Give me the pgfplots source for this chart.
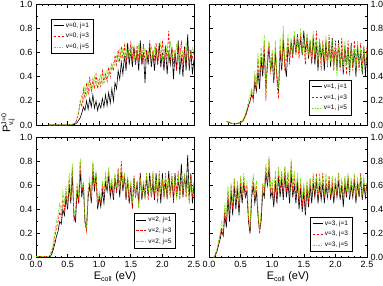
\documentclass[border=0pt]{standalone}
\usepackage{fontspec}
\setmainfont{Liberation Sans}
\usepackage{pgfplots}
\usepackage{pgfplotstable}
\pgfplotsset{compat=1.18}
\definecolor{lgreen}{rgb}{0.45,0.9,0}

\pgfplotstableread{
x a b c
0.200 0 0 0
0.300 0 0 0
0.400 0 0 0
0.500 0 0 0
0.550 0 0.005 0.005
0.600 0.005 0.01 0.01
0.625 0.01 0.02 0.02
0.650 0.02 0.05 0.06
0.675 0.04 0.10 0.12
0.700 0.06 0.20 0.18
0.725 0.10 0.15 0.25
0.750 0.15 0.30 0.20
0.775 0.12 0.22 0.32
0.800 0.20 0.35 0.25
0.825 0.13 0.25 0.36
0.850 0.22 0.40 0.28
0.875 0.15 0.28 0.34
0.900 0.25 0.38 0.30
0.925 0.14 0.30 0.40
0.950 0.20 0.42 0.32
0.975 0.12 0.30 0.38
1.000 0.18 0.38 0.33
1.025 0.14 0.32 0.42
1.050 0.22 0.45 0.35
1.075 0.15 0.35 0.44
1.100 0.25 0.42 0.38
1.125 0.16 0.36 0.46
1.150 0.27 0.48 0.40
1.175 0.18 0.40 0.48
1.200 0.30 0.50 0.45
1.225 0.20 0.45 0.52
1.250 0.35 0.58 0.50
1.275 0.30 0.50 0.58
1.300 0.45 0.62 0.52
1.325 0.38 0.52 0.62
1.350 0.52 0.65 0.55
1.375 0.42 0.55 0.64
1.400 0.58 0.66 0.56
1.425 0.45 0.52 0.66
1.450 0.68 0.62 0.55
1.475 0.50 0.56 0.63
1.500 0.62 0.68 0.58
1.525 0.48 0.55 0.65
1.550 0.65 0.64 0.54
1.575 0.50 0.50 0.62
1.600 0.62 0.66 0.56
1.625 0.45 0.55 0.66
1.650 0.70 0.62 0.55
1.675 0.50 0.50 0.63
1.700 0.60 0.67 0.55
1.725 0.35 0.52 0.64
1.750 0.62 0.60 0.56
1.775 0.50 0.55 0.62
1.800 0.66 0.70 0.58
1.825 0.48 0.50 0.66
1.850 0.60 0.62 0.55
1.875 0.45 0.54 0.64
1.900 0.63 0.68 0.56
1.925 0.50 0.50 0.62
1.950 0.68 0.64 0.58
1.975 0.48 0.56 0.68
2.000 0.60 0.70 0.55
2.025 0.45 0.48 0.64
2.050 0.65 0.66 0.58
2.075 0.42 0.55 0.66
2.100 0.60 0.78 0.56
2.125 0.50 0.52 0.70
2.150 0.64 0.65 0.55
2.175 0.38 0.50 0.62
2.200 0.60 0.62 0.58
2.225 0.45 0.45 0.66
2.250 0.70 0.64 0.52
2.275 0.42 0.55 0.64
2.300 0.58 0.70 0.56
2.325 0.40 0.50 0.62
2.350 0.65 0.62 0.55
2.375 0.45 0.52 0.68
2.400 0.75 0.66 0.56
2.425 0.45 0.50 0.62
2.450 0.62 0.60 0.58
2.475 0.42 0.55 0.64
2.500 0.55 0.62 0.60
}\tA

\pgfplotstableread{
x a b c
0.280 0.03 0.03 0.03
0.300 0.025 0.025 0.025
0.350 0.015 0.015 0.015
0.400 0.01 0.01 0.01
0.450 0.012 0.012 0.015
0.500 0.02 0.02 0.025
0.525 0.03 0.03 0.035
0.550 0.05 0.04 0.05
0.575 0.08 0.07 0.09
0.600 0.12 0.10 0.14
0.625 0.16 0.15 0.20
0.650 0.20 0.20 0.25
0.675 0.25 0.28 0.30
0.700 0.22 0.20 0.25
0.725 0.35 0.40 0.45
0.750 0.28 0.30 0.32
0.775 0.45 0.55 0.60
0.800 0.30 0.35 0.38
0.825 0.55 0.60 0.65
0.850 0.40 0.45 0.50
0.875 0.62 0.70 0.75
0.900 0.30 0.20 0.25
0.925 0.50 0.55 0.60
0.950 0.65 0.68 0.70
0.975 0.45 0.42 0.45
1.000 0.55 0.60 0.62
1.025 0.35 0.38 0.40
1.050 0.60 0.65 0.70
1.075 0.40 0.35 0.42
1.100 0.28 0.22 0.30
1.125 0.62 0.66 0.72
1.150 0.45 0.48 0.50
1.175 0.70 0.75 0.82
1.200 0.50 0.45 0.50
1.225 0.40 0.55 0.60
1.250 0.65 0.72 0.75
1.275 0.55 0.50 0.55
1.300 0.70 0.68 0.72
1.325 0.58 0.55 0.60
1.350 0.72 0.74 0.78
1.375 0.60 0.58 0.62
1.400 0.75 0.70 0.74
1.425 0.60 0.55 0.58
1.450 0.72 0.76 0.80
1.475 0.58 0.60 0.60
1.500 0.78 0.68 0.72
1.525 0.60 0.50 0.55
1.550 0.72 0.75 0.76
1.575 0.55 0.58 0.60
1.600 0.70 0.66 0.70
1.625 0.52 0.50 0.55
1.650 0.74 0.72 0.78
1.675 0.50 0.55 0.58
1.700 0.68 0.78 0.70
1.725 0.45 0.50 0.52
1.750 0.70 0.65 0.72
1.775 0.55 0.45 0.50
1.800 0.66 0.70 0.68
1.825 0.45 0.52 0.55
1.850 0.70 0.66 0.74
1.875 0.52 0.48 0.50
1.900 0.68 0.75 0.68
1.925 0.48 0.55 0.52
1.950 0.72 0.62 0.70
1.975 0.50 0.45 0.48
2.000 0.65 0.70 0.66
2.025 0.45 0.52 0.40
2.050 0.70 0.66 0.68
2.075 0.48 0.45 0.50
2.100 0.62 0.72 0.64
2.125 0.42 0.50 0.45
2.150 0.66 0.62 0.70
2.175 0.50 0.42 0.50
2.200 0.64 0.70 0.62
2.225 0.42 0.50 0.40
2.250 0.68 0.64 0.66
2.275 0.48 0.45 0.52
2.300 0.62 0.70 0.62
2.325 0.40 0.52 0.45
2.350 0.66 0.60 0.70
2.375 0.50 0.45 0.50
2.400 0.60 0.68 0.64
2.425 0.42 0.50 0.45
2.450 0.65 0.62 0.66
2.475 0.40 0.48 0.50
2.500 0.62 0.66 0.60
}\tB

\pgfplotstableread{
x a b c
0.000 0.01 0.01 0.01
0.100 0.01 0.01 0.01
0.200 0.01 0.01 0.01
0.225 0.01 0.02 0.03
0.250 0.03 0.05 0.07
0.275 0.07 0.10 0.14
0.300 0.12 0.18 0.22
0.325 0.18 0.25 0.30
0.350 0.22 0.30 0.35
0.375 0.30 0.38 0.45
0.400 0.28 0.33 0.38
0.425 0.40 0.48 0.55
0.450 0.35 0.40 0.45
0.475 0.50 0.55 0.60
0.500 0.40 0.42 0.45
0.525 0.60 0.65 0.70
0.550 0.45 0.48 0.50
0.575 0.70 0.75 0.78
0.600 0.35 0.30 0.35
0.625 0.30 0.35 0.40
0.650 0.55 0.60 0.62
0.675 0.45 0.45 0.50
0.700 0.72 0.80 0.82
0.725 0.50 0.55 0.58
0.750 0.62 0.60 0.62
0.775 0.30 0.28 0.32
0.800 0.25 0.22 0.25
0.825 0.50 0.55 0.58
0.850 0.60 0.62 0.66
0.875 0.45 0.48 0.50
0.900 0.72 0.78 0.80
0.925 0.55 0.60 0.62
0.950 0.70 0.68 0.72
0.975 0.40 0.42 0.45
1.000 0.50 0.52 0.55
1.025 0.42 0.45 0.48
1.050 0.55 0.60 0.64
1.075 0.45 0.50 0.55
1.100 0.62 0.66 0.70
1.125 0.55 0.58 0.60
1.150 0.68 0.72 0.75
1.175 0.50 0.55 0.58
1.200 0.60 0.62 0.66
1.225 0.48 0.50 0.55
1.250 0.66 0.68 0.70
1.275 0.55 0.55 0.58
1.300 0.70 0.74 0.72
1.325 0.50 0.55 0.56
1.350 0.72 0.80 0.76
1.375 0.55 0.58 0.60
1.400 0.68 0.70 0.70
1.425 0.48 0.50 0.52
1.450 0.65 0.66 0.68
1.475 0.45 0.45 0.50
1.500 0.60 0.62 0.64
1.525 0.42 0.40 0.45
1.550 0.66 0.68 0.66
1.575 0.50 0.50 0.52
1.600 0.62 0.64 0.60
1.625 0.45 0.42 0.40
1.650 0.70 0.70 0.66
1.675 0.48 0.50 0.52
1.700 0.60 0.62 0.64
1.725 0.50 0.55 0.50
1.750 0.66 0.70 0.70
1.775 0.52 0.48 0.55
1.800 0.70 0.66 0.64
1.825 0.50 0.52 0.50
1.850 0.62 0.70 0.72
1.875 0.48 0.50 0.55
1.900 0.70 0.64 0.66
1.925 0.52 0.45 0.50
1.950 0.65 0.72 0.70
1.975 0.45 0.50 0.55
2.000 0.70 0.62 0.64
2.025 0.50 0.55 0.48
2.050 0.62 0.70 0.70
2.075 0.50 0.48 0.52
2.100 0.72 0.66 0.64
2.125 0.52 0.50 0.50
2.150 0.66 0.70 0.68
2.175 0.48 0.45 0.55
2.200 0.70 0.64 0.66
2.225 0.50 0.55 0.48
2.250 0.64 0.72 0.70
2.275 0.55 0.48 0.50
2.300 0.78 0.66 0.64
2.325 0.50 0.52 0.55
2.350 0.68 0.70 0.70
2.375 0.55 0.50 0.50
2.400 0.85 0.65 0.68
2.425 0.50 0.45 0.45
2.450 0.70 0.68 0.66
2.475 0.45 0.50 0.55
2.500 0.62 0.60 0.62
}\tC

\pgfplotstableread{
x a b c
0.075 0.00 0.00 0.00
0.100 0.02 0.03 0.03
0.125 0.05 0.06 0.07
0.150 0.10 0.12 0.14
0.175 0.15 0.18 0.20
0.200 0.22 0.25 0.30
0.225 0.18 0.20 0.25
0.250 0.35 0.40 0.45
0.275 0.25 0.30 0.35
0.300 0.50 0.55 0.60
0.325 0.30 0.35 0.40
0.350 0.55 0.60 0.62
0.375 0.35 0.40 0.45
0.400 0.60 0.65 0.66
0.425 0.40 0.45 0.48
0.450 0.58 0.62 0.64
0.475 0.35 0.40 0.45
0.500 0.60 0.66 0.68
0.525 0.45 0.50 0.52
0.550 0.62 0.65 0.70
0.575 0.50 0.52 0.55
0.600 0.55 0.60 0.62
0.625 0.30 0.32 0.35
0.650 0.20 0.22 0.25
0.675 0.50 0.55 0.58
0.700 0.60 0.65 0.68
0.725 0.45 0.50 0.52
0.750 0.55 0.60 0.64
0.775 0.35 0.38 0.40
0.800 0.22 0.20 0.22
0.825 0.30 0.35 0.38
0.850 0.55 0.60 0.62
0.875 0.50 0.55 0.58
0.900 0.70 0.75 0.78
0.925 0.60 0.62 0.65
0.950 0.75 0.82 0.84
0.975 0.50 0.55 0.58
1.000 0.55 0.60 0.64
1.025 0.42 0.45 0.50
1.050 0.62 0.68 0.72
1.075 0.45 0.50 0.55
1.100 0.68 0.72 0.75
1.125 0.50 0.55 0.60
1.150 0.65 0.70 0.72
1.175 0.48 0.52 0.58
1.200 0.70 0.75 0.76
1.225 0.50 0.55 0.60
1.250 0.62 0.70 0.72
1.275 0.45 0.50 0.55
1.300 0.70 0.80 0.82
1.325 0.50 0.55 0.60
1.350 0.60 0.68 0.72
1.375 0.45 0.50 0.55
1.400 0.62 0.66 0.70
1.425 0.40 0.45 0.50
1.450 0.58 0.62 0.66
1.475 0.38 0.42 0.48
1.500 0.55 0.60 0.62
1.525 0.35 0.38 0.45
1.550 0.58 0.62 0.64
1.575 0.42 0.45 0.50
1.600 0.60 0.65 0.66
1.625 0.45 0.50 0.52
1.650 0.62 0.68 0.70
1.675 0.50 0.52 0.55
1.700 0.64 0.70 0.68
1.725 0.45 0.50 0.52
1.750 0.60 0.66 0.70
1.775 0.48 0.52 0.55
1.800 0.62 0.70 0.66
1.825 0.45 0.50 0.52
1.850 0.60 0.65 0.70
1.875 0.50 0.52 0.55
1.900 0.64 0.68 0.66
1.925 0.48 0.50 0.52
1.950 0.60 0.64 0.68
1.975 0.45 0.48 0.50
2.000 0.62 0.66 0.65
2.025 0.50 0.52 0.55
2.050 0.64 0.70 0.70
2.075 0.48 0.50 0.52
2.100 0.60 0.64 0.66
2.125 0.42 0.48 0.50
2.150 0.62 0.66 0.68
2.175 0.50 0.52 0.55
2.200 0.66 0.68 0.70
2.225 0.48 0.50 0.52
2.250 0.60 0.64 0.66
2.275 0.50 0.52 0.55
2.300 0.64 0.68 0.70
2.325 0.45 0.50 0.50
2.350 0.62 0.64 0.66
2.375 0.50 0.52 0.55
2.400 0.66 0.70 0.68
2.425 0.48 0.50 0.52
2.450 0.60 0.64 0.66
2.475 0.50 0.52 0.55
2.500 0.62 0.60 0.62
}\tD

\pgfplotsset{
  panel/.style={
    width=158pt, height=120.7pt, scale only axis,
    xmin=0, xmax=2.5, ymin=0, ymax=1,
    xtick={0,0.5,...,2.5}, ytick={0,0.2,...,1.0},
    minor x tick num=4, minor y tick num=1,
    tick align=inside, major tick length=4pt, minor tick length=2pt,
    xtick pos=both, ytick pos=both,
    axis line style={line width=0.8pt},
    every tick/.style={line width=0.6pt, black},
    /pgf/number format/assume math mode=true,
    tick label style={font=\fontsize{9}{9}\selectfont},
    xticklabel style={/pgf/number format/fixed, /pgf/number format/fixed zerofill, /pgf/number format/precision=1},
    yticklabel style={/pgf/number format/fixed, /pgf/number format/fixed zerofill, /pgf/number format/precision=1},
    xlabel style={font=\fontsize{11}{11}\selectfont, yshift=3pt},
    legend style={font=\fontsize{6.5}{7}\selectfont, draw=black, line width=0.4pt, inner xsep=2pt, inner ysep=1.5pt, row sep=0.5pt, fill=white},
    legend cell align=left,
    legend image code/.code={\draw[##1] plot coordinates {(0pt,0pt) (10pt,0pt)};},
  },
  sA/.style={black, line width=0.6pt},
  sB/.style={red, line width=0.6pt, dash pattern=on 2.5pt off 1.5pt},
  sC/.style={lgreen, line width=0.6pt, dash pattern=on 2.5pt off 1pt on 0.8pt off 1pt},
}

\begin{document}
\begin{tikzpicture}[x=1pt,y=1pt]
\useasboundingbox (0,0) rectangle (383,285);

\begin{axis}[panel, at={(36pt,160pt)}, anchor=south west, xticklabels={},
  legend style={at={(0.095,0.88)}, anchor=north west}]
\addplot[sA] table[x=x,y=a]{\tA};
\addplot[sB] table[x=x,y=b]{\tA};
\addplot[sC] table[x=x,y=c]{\tA};
\legend{{v=0, j=1},{v=0, j=3},{v=0, j=5}}
\end{axis}

\begin{axis}[panel, at={(209pt,160pt)}, anchor=south west, xticklabels={}, yticklabel pos=right,
  legend style={at={(0.9,0.083)}, anchor=south east}]
\addplot[sA] table[x=x,y=a]{\tB};
\addplot[sB] table[x=x,y=b]{\tB};
\addplot[sC] table[x=x,y=c]{\tB};
\legend{{v=1, j=1},{v=1, j=3},{v=1, j=5}}
\end{axis}

\begin{axis}[panel, at={(36pt,27.3pt)}, anchor=south west,
  xlabel={E$_{\mbox{\fontsize{7}{7}\selectfont coll}}$ (eV)},
  legend style={at={(0.884,0.078)}, anchor=south east}]
\addplot[sA] table[x=x,y=a]{\tC};
\addplot[sB] table[x=x,y=b]{\tC};
\addplot[sC] table[x=x,y=c]{\tC};
\legend{{v=2, j=1},{v=2, j=3},{v=2, j=5}}
\end{axis}

\begin{axis}[panel, at={(209pt,27.3pt)}, anchor=south west, yticklabel pos=right,
  xlabel={E$_{\mbox{\fontsize{7}{7}\selectfont coll}}$ (eV)},
  legend style={at={(0.906,0.05)}, anchor=south east}]
\addplot[sA] table[x=x,y=a]{\tD};
\addplot[sB] table[x=x,y=b]{\tD};
\addplot[sC] table[x=x,y=c]{\tD};
\legend{{v=3, j=1},{v=3, j=3},{v=3, j=5}}
\end{axis}

\node[rotate=90, font=\fontsize{11}{11}\selectfont] at (8,162)
  {P$_{\mbox{\fontsize{7}{7}\selectfont v,j}}^{\mbox{\fontsize{7}{7}\selectfont J=0}}$};
\end{tikzpicture}
\end{document}
